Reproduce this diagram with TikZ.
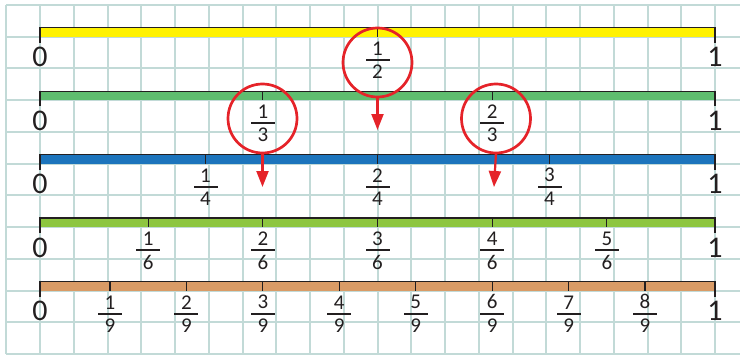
\documentclass[tikz,border=0pt]{standalone}
\usepackage{fontspec}
\setmainfont{Carlito}
\usetikzlibrary{arrows.meta,positioning}
\definecolor{inkGray}{HTML}{231F20}
\definecolor{gridTeal}{HTML}{C2DAD7}
\definecolor{markRed}{HTML}{E52329}
\definecolor{barYellow}{HTML}{FFF200}
\definecolor{barGreen}{HTML}{5FBD6F}
\definecolor{barBlue}{HTML}{1C74BC}
\definecolor{barLime}{HTML}{8DC63F}
\definecolor{barOrange}{HTML}{D99B66}
\tikzset{
  frac diagram/.style={
    x=1pt, y=-1pt, color=inkGray,
    >={Triangle[length=16pt,width=12pt]},
    every node/.style={text=inkGray, inner sep=0pt, outer sep=0pt}
  },
  grid line/.style={draw=gridTeal, line width=2pt},
  bar edge/.style={draw=inkGray, line width=1.3pt},
  end label/.style={font=\fontsize{30}{32}\selectfont},
  frac digit/.style={font=\fontsize{21}{23}\selectfont},
  frac bar/.style={fill=inkGray, minimum width=24pt, minimum height=2.2pt},
  red ring/.style={circle, draw=markRed, line width=2.7pt, minimum size=69pt},
  red arrow/.style={draw=markRed, line width=2.2pt, ->}
}
% bar: colour, bottom y, name
\newcommand{\NumberBar}[3]{%
  \fill[#1] (40,{#2-9}) rectangle (715,#2);
  \draw[bar edge] (40,{#2+6}) -- (40,{#2-9}) -- (715,{#2-9}) -- (715,{#2+6});
  \node[end label] (#3z) at (40,{#2+20.5}) {0};
  \node[end label] (#3o) at (715,{#2+20.5}) {1};
}
% fraction mark: name, x, bar bottom y, numerator, denominator
\newcommand{\FracMark}[5]{%
  \draw[bar edge] ({#2},{#3-9}) -- ({#2},{#3});
  \node[frac bar] (#1) at ({#2},{#3+23}) {};
  \node[frac digit, above=3.5pt of #1] (#1n) {#4};
  \node[frac digit, below=4pt of #1] (#1d) {#5};
}
\begin{document}
\begin{tikzpicture}[frac diagram]
  \useasboundingbox (0,0) rectangle (740,356);
  \clip (0,0) rectangle (740,356);
  % squared paper
  \foreach \gx in {-1,...,21}
    \draw[grid line] ({40+33.75*\gx},5) -- ({40+33.75*\gx},354);
  \foreach \gy in {0,...,11}
    \draw[grid line] (6.25,{5+31.73*\gy}) -- (745,{5+31.73*\gy});

  % the five number lines
  \NumberBar{barYellow}{36.7}{yb}
  \NumberBar{barGreen}{100.2}{gb}
  \NumberBar{barBlue}{163.6}{bb}
  \NumberBar{barLime}{227.1}{lb}
  \NumberBar{barOrange}{290.6}{ob}

  \FracMark{f1o2}{377.5}{36.7}{1}{2}
  \foreach \k in {1,2}
    {\FracMark{f\k o3}{377.5+(\k/3-0.5)*688}{100.2}{\k}{3}}
  \foreach \k in {1,...,3}
    {\FracMark{f\k o4}{377.5+(\k/4-0.5)*688}{163.6}{\k}{4}}
  \foreach \k in {1,...,5}
    {\FracMark{f\k o6}{377.5+(\k/6-0.5)*688}{227.1}{\k}{6}}
  \foreach \k in {1,...,8}
    {\FracMark{f\k o9}{377.5+(\k/9-0.5)*688}{290.6}{\k}{9}}

  % red rings and arrows
  \node[red ring] (c12) at (377.5,62.5) {};
  \node[red ring] (c13) at (262.5,118.5) {};
  \node[red ring] (c23) at (496,118.5) {};
  \coordinate (t12) at (377.5,130);
  \coordinate (t13) at (262.5,187);
  \coordinate (t23) at (494,187);
  \draw[red arrow] (c12.south) -- (t12);
  \draw[red arrow] (c13.south) -- (t13);
  \draw[red arrow] (c23.south) -- (t23);
\end{tikzpicture}
\end{document}
